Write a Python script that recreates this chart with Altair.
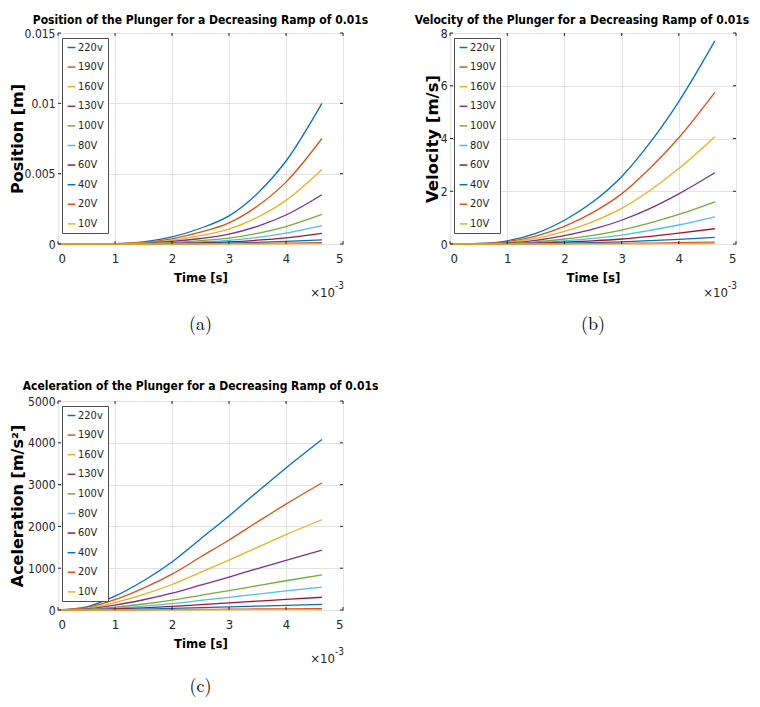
import altair as alt
import pandas as pd

# ---------------- data ----------------
time_ms = [0, 0.5, 1, 1.5, 2, 2.5, 3, 3.5, 4, 4.63]
labels = ["220v", "190V", "160V", "130V", "100V", "80V", "60V", "40V", "20V", "10V"]
colors = ["#0072BD", "#D95319", "#EDB120", "#7E2F8E", "#77AC30",
          "#4DBEEE", "#A2142F", "#0072BD", "#D95319", "#EDB120"]

# Position [m]
pos_220 = [0, 0.000003, 0.00003, 0.00015, 0.0005, 0.00112, 0.0020, 0.0036, 0.0059, 0.0100]
pos_190 = [0, 0.000002, 0.00002, 0.00011, 0.00037, 0.00084, 0.0015, 0.0027, 0.0044, 0.0075]
pos_160 = [0, 0.000002, 0.000016, 0.00008, 0.00026, 0.00059, 0.00106, 0.0019, 0.0031, 0.0053]
pos_130 = [0, 0.000001, 0.00001, 0.00005, 0.00018, 0.00039, 0.0007, 0.00126, 0.00206, 0.0035]
pos_100 = [0, 0, 0.000006, 0.00003, 0.0001, 0.00024, 0.00042, 0.00076, 0.00124, 0.0021]
pos_80 = [0, 0, 0.000004, 0.00002, 0.000065, 0.000145, 0.00026, 0.00047, 0.00077, 0.0013]
pos_60 = [0, 0, 0.000002, 0.00001, 0.00004, 0.000085, 0.00015, 0.00027, 0.00044, 0.00075]
pos_40 = [0, 0, 0, 0.000005, 0.000015, 0.000034, 0.00006, 0.00011, 0.00018, 0.0003]
pos_20 = [0, 0, 0, 0.000001, 0.000005, 0.000011, 0.00002, 0.000036, 0.00006, 0.0001]
pos_10 = [0, 0, 0, 0, 0.000001, 0.000003, 0.000006, 0.000011, 0.000018, 0.00003]

# Velocity [m/s]
vel_220 = [0, 0.02, 0.12, 0.4, 0.9, 1.6, 2.55, 3.85, 5.4, 7.7]
vel_190 = [0, 0.015, 0.09, 0.3, 0.67, 1.2, 1.9, 2.88, 4.03, 5.75]
vel_160 = [0, 0.01, 0.063, 0.21, 0.48, 0.85, 1.35, 2.04, 2.86, 4.07]
vel_130 = [0, 0.007, 0.042, 0.14, 0.32, 0.56, 0.9, 1.35, 1.9, 2.7]
vel_100 = [0, 0.004, 0.025, 0.083, 0.19, 0.33, 0.53, 0.8, 1.12, 1.6]
vel_80 = [0, 0.003, 0.016, 0.054, 0.12, 0.21, 0.34, 0.52, 0.72, 1.03]
vel_60 = [0, 0.002, 0.009, 0.03, 0.068, 0.12, 0.19, 0.29, 0.41, 0.58]
vel_40 = [0, 0.001, 0.004, 0.013, 0.029, 0.052, 0.083, 0.125, 0.175, 0.25]
vel_20 = [0, 0, 0.001, 0.004, 0.008, 0.015, 0.023, 0.035, 0.049, 0.07]
vel_10 = [0, 0, 0, 0.001, 0.002, 0.004, 0.007, 0.01, 0.014, 0.02]

# Acceleration [m/s^2]
acc_220 = [0, 75, 330, 700, 1150, 1700, 2250, 2830, 3400, 4080]
acc_190 = [0, 56, 246, 522, 857, 1267, 1676, 2108, 2533, 3040]
acc_160 = [0, 40, 175, 371, 610, 901, 1193, 1500, 1802, 2160]
acc_130 = [0, 26, 116, 245, 403, 595, 788, 991, 1190, 1430]
acc_100 = [0, 15, 68, 144, 237, 350, 464, 583, 700, 840]
acc_80 = [0, 10, 44, 94, 154, 228, 302, 379, 456, 545]
acc_60 = [0, 6, 25, 53, 86, 128, 169, 212, 255, 305]
acc_40 = [0, 2, 11, 23, 38, 56, 74, 93, 112, 135]
acc_20 = [0, 1, 3, 6, 10, 15, 19, 24, 29, 35]
acc_10 = [0, 0, 1, 2, 3, 4, 6, 7, 8, 10]

x_ticks = [0, 1, 2, 3, 4, 5]
pos_ticks = [0, 0.005, 0.01, 0.015]
vel_ticks = [0, 2, 4, 6, 8]
acc_ticks = [0, 1000, 2000, 3000, 4000, 5000]

pos_series = [pos_220, pos_190, pos_160, pos_130, pos_100, pos_80, pos_60, pos_40, pos_20, pos_10]
vel_series = [vel_220, vel_190, vel_160, vel_130, vel_100, vel_80, vel_60, vel_40, vel_20, vel_10]
acc_series = [acc_220, acc_190, acc_160, acc_130, acc_100, acc_80, acc_60, acc_40, acc_20, acc_10]


def long_frame(series_list):
    rows = []
    for k, (lab, vals) in enumerate(zip(labels, series_list)):
        for t, v in zip(time_ms, vals):
            rows.append({"t": t, "v": v, "series": lab, "k": k})
    return pd.DataFrame(rows)


NARROW = "DejaVu Sans Condensed"
INK = "#262626"


def panel(series_list, title, ytitle, yticks, W, H, caption, title_x,
          ytitle_size, toff, tdx, cap_dy):
    df = long_frame(series_list)
    xs = alt.Scale(domain=[0, 5], nice=False)
    ys = alt.Scale(domain=[yticks[0], yticks[-1]], nice=False)

    x_axis = alt.Axis(values=x_ticks, labelExpr="toString(datum.value)",
                      title="Time [s]", labelPadding=8, titlePadding=6,
                      labelFontSize=13)
    y_axis = alt.Axis(values=yticks, labelExpr="toString(datum.value)", title=ytitle,
                      labelPadding=3, labelFontSize=12,
                      titleX=title_x, titleY=H / 2,
                      titleAngle=270, titleAlign="center",
                      titleBaseline="middle", titleFont="DejaVu Sans",
                      titleFontSize=ytitle_size)

    lines = alt.Chart(df).mark_line(strokeWidth=1.3, interpolate="monotone").encode(
        x=alt.X("t:Q", scale=xs, axis=x_axis),
        y=alt.Y("v:Q", scale=ys, axis=y_axis),
        color=alt.Color("series:N", sort=labels,
                        scale=alt.Scale(domain=labels, range=colors),
                        legend=alt.Legend(
                            title=None, orient="none", legendX=4, legendY=5,
                            symbolType="stroke", symbolSize=60, symbolStrokeWidth=1.5,
                            labelFont=NARROW, labelFontSize=11, labelColor=INK,
                            labelExpr="datum.label + '    '",
                            rowPadding=7.6, padding=4, labelOffset=1,
                            strokeColor="#4d4d4d", fillColor="white")),
        detail="k:N",
    )

    ydf = pd.DataFrame({"v": yticks})
    xdf = pd.DataFrame({"t": x_ticks})
    yt_left = alt.Chart(ydf).mark_rule(color=INK).encode(
        y=alt.Y("v:Q", scale=ys, axis=y_axis), x=alt.value(0), x2=alt.value(3))
    yt_right = alt.Chart(ydf).mark_rule(color=INK).encode(
        y=alt.Y("v:Q", scale=ys, axis=y_axis), x=alt.value(W - 3), x2=alt.value(W))
    xt_bottom = alt.Chart(xdf).mark_rule(color=INK).encode(
        x=alt.X("t:Q", scale=xs, axis=x_axis), y=alt.value(H - 3), y2=alt.value(H))
    xt_top = alt.Chart(xdf).mark_rule(color=INK).encode(
        x=alt.X("t:Q", scale=xs, axis=x_axis), y=alt.value(0), y2=alt.value(3))

    one = pd.DataFrame({"d": [0]})
    exp_base = alt.Chart(one).mark_text(
        text="\u00d710", font=NARROW, fontSize=13, color=INK,
        align="right", baseline="alphabetic").encode(
        x=alt.value(W - 8), y=alt.value(H + 53))
    exp_sup = alt.Chart(one).mark_text(
        text="-3", font=NARROW, fontSize=10, color=INK,
        align="left", baseline="alphabetic").encode(
        x=alt.value(W - 8), y=alt.value(H + 45))
    cap = alt.Chart(one).mark_text(
        text=caption, font="Latin Modern Roman, CMU Serif, DejaVu Serif, serif",
        fontSize=18, color="black", align="center", baseline="alphabetic").encode(
        x=alt.value(W / 2), y=alt.value(H + cap_dy))

    return alt.layer(lines, yt_left, yt_right, xt_bottom, xt_top,
                     exp_base, exp_sup, cap).properties(
        width=W, height=H,
        title=alt.TitleParams(title, font=NARROW, fontSize=12, fontWeight="bold",
                              color="black", anchor="middle", offset=toff,
                              baseline="alphabetic", frame="group", dx=tdx),
    )


pa = panel(pos_series, "Position of the Plunger for a Decreasing Ramp of 0.01s",
           "Position [m]", pos_ticks, 285, 211, "(a)", -41, 16, -9, 0, 86)
pb = panel(vel_series, "Velocity of the Plunger for a Decreasing Ramp of 0.01s",
           "Velocity [m/s]", vel_ticks, 286, 211, "(b)", -18, 16.5, -9, -11, 86)
pc = panel(acc_series, "Aceleration of the Plunger for a Decreasing Ramp of 0.01s",
           "Aceleration [m/s\u00b2]", acc_ticks, 285, 209, "(c)", -41, 16, -7, 0, 82)

top = alt.hconcat(pa, pb, spacing=45).resolve_scale(
    color="independent").resolve_legend(color="independent")
chart = alt.vconcat(top, pc, spacing=44).resolve_scale(
    color="independent").resolve_legend(color="independent").properties(
    padding={"left": 0, "top": 5, "right": 0, "bottom": 0}
).configure_view(
    stroke=INK, strokeWidth=1
).configure_axis(
    labelFont=NARROW, labelColor=INK,
    titleFont=NARROW, titleFontSize=13, titleFontWeight="bold", titleColor="black",
    grid=True, gridColor="#e3e3e3", gridWidth=1,
    ticks=False, domain=False,
)

chart.save("out.html", embed_options={"renderer": "svg", "actions": False})
